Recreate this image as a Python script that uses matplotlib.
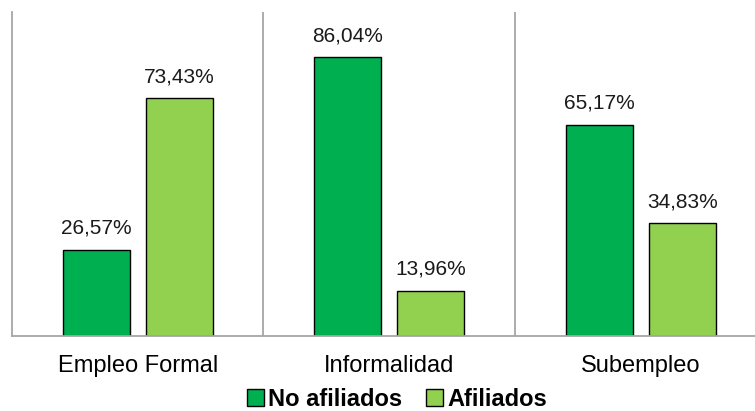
import matplotlib.pyplot as plt
import numpy as np

plt.rcParams['font.family'] = ['Liberation Sans', 'DejaVu Sans']

categorias = ["Empleo Formal", "Informalidad", "Subempleo"]
no_afiliados = [26.57, 86.04, 65.17]
afiliados = [73.43, 13.96, 34.83]

fig = plt.figure(figsize=(7.55, 4.11), dpi=100)
# plot area runs a bit past the right edge of the figure
ax = fig.add_axes([12 / 755, 75 / 411, 3 * 251.5 / 755, 324 / 411])

x = np.arange(len(categorias))
w = 0.266
off = 0.165
b1 = ax.bar(x - off, no_afiliados, w, color="#00B050", edgecolor="black", linewidth=1, label="No afiliados")
b2 = ax.bar(x + off, afiliados, w, color="#92D050", edgecolor="black", linewidth=1, label="Afiliados")

for bars, vals in [(b1, no_afiliados), (b2, afiliados)]:
    for r, v in zip(bars, vals):
        ax.annotate(f"{v:.2f}%".replace(".", ","), (r.get_x() + r.get_width() / 2, v),
                    xytext=(0, 11.5), textcoords="offset points",
                    ha="center", va="baseline", fontsize=15, color="#1a1a1a")

ax.set_xlim(-0.5, 2.5)
ax.set_ylim(0, 100)
ax.set_yticks([])
ax.set_xticks(x)
ax.set_xticklabels(categorias, fontsize=17)
ax.tick_params(axis="x", length=0, pad=14)

for s in ["top", "right"]:
    ax.spines[s].set_visible(False)
for s in ["left", "bottom"]:
    ax.spines[s].set_color("#A6A6A6")
    ax.spines[s].set_linewidth(1.3)

# separators between categories
for sep in [0.5, 1.5]:
    ax.axvline(sep, color="#A6A6A6", linewidth=1.3)

leg = fig.legend(loc="center", bbox_to_anchor=(397 / 755, 1 - 399 / 411), ncol=2, frameon=False,
                 prop={"size": 17, "weight": "bold"}, handlelength=0.7, handleheight=0.7,
                 handletextpad=0.2, columnspacing=1.0, borderaxespad=0, borderpad=0)

fig.savefig("out.png", dpi=100)
